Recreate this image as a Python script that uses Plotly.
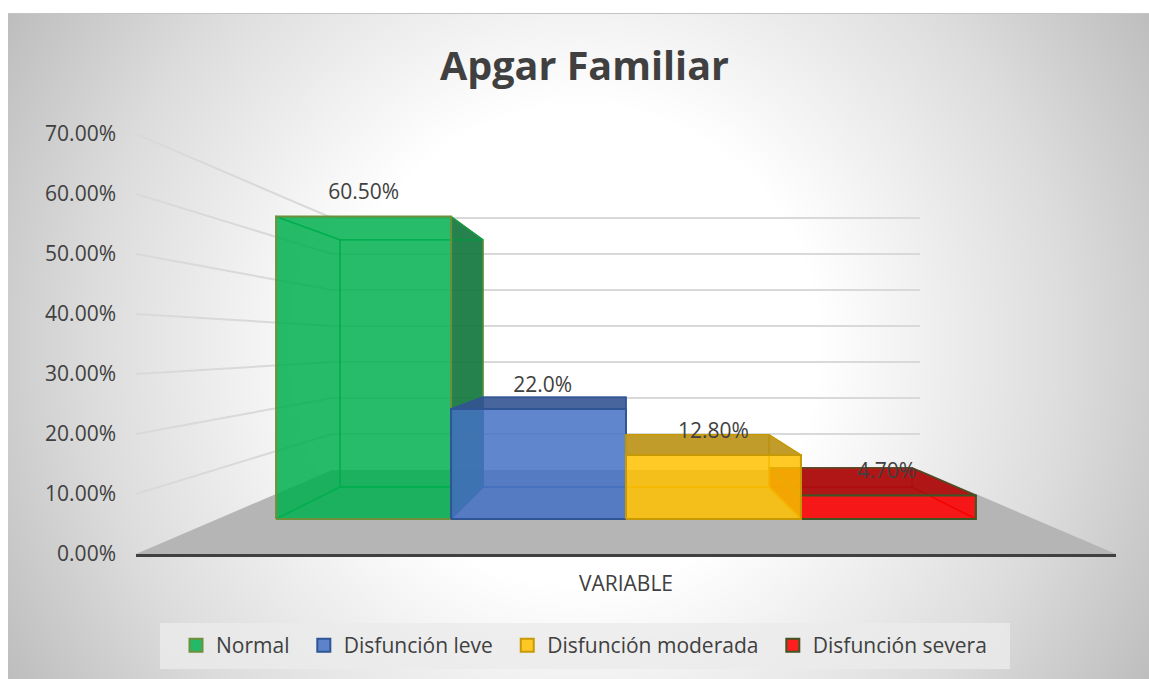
import base64
import plotly.graph_objects as go

categories=["Normal","Disfunción leve","Disfunción moderada","Disfunción severa"]
values=[60.5,22.0,12.8,4.7]
value_labels=["60.50%","22.0%","12.80%","4.70%"]
label_nudge=[0,0.024,0,-0.01]
grid_values=[0,10,20,30,40,50,60,70]
tick_labels=["0.00%","10.00%","20.00%","30.00%","40.00%","50.00%","60.00%","70.00%"]
# trailing no-break spaces only open up the gaps between legend entries
legend_pad=["\u00a0\u00a0\u00a0","\u00a0\u00a0\u00a0","\u00a0\u00a0\u00a0","\u00a0"]

# colours per series
front_fill=["rgba(0,176,80,0.85)","rgba(68,114,196,0.85)","rgba(255,192,0,0.85)","rgba(255,0,0,0.87)"]
dark_fill=["rgba(20,120,62,0.93)","rgba(52,84,146,0.9)","rgba(186,142,14,0.88)","rgba(176,14,14,0.95)"]
front_edge=["#6f8f3a","#2f5597","#c79a05","#3f5524"]
inner_edge=["rgba(0,160,70,0.9)","rgba(47,85,151,0.7)","rgba(199,154,5,0.8)","rgba(160,15,15,0.9)"]

# perspective: everything shrinks towards the middle of the axis
vanish=35
axis_half=7/3
front_depth=0.833
back_depth=0.681
wall_depth=0.6

def proj(x,v,s):
    return s*x,vanish+s*(v-vanish)

def poly(points):
    xs=[];ys=[]
    for p in points:
        a,b=proj(*p)
        xs.append(a);ys.append(b)
    return xs,ys

fig=go.Figure()

def add_face(points,fill=None,edge=None,width=1.3,close=True):
    pts=list(points)
    if close:
        pts.append(pts[0])
    xs,ys=poly(pts)
    fig.add_trace(go.Scatter(x=xs,y=ys,mode="lines",fill="toself" if fill else "none",fillcolor=fill,
                             line=dict(color=edge if edge else "rgba(0,0,0,0)",width=width),
                             showlegend=False,hoverinfo="skip"))

# floor
add_face([(-axis_half,0,1),(-axis_half,0,wall_depth),(axis_half,0,wall_depth),(axis_half,0,1)],fill="#b5b5b5",width=0)

# grid lines on the wall
for g in grid_values[1:]:
    add_face([(-axis_half,g,1),(-axis_half,g,wall_depth),(axis_half,g,wall_depth)],edge="#d9d9d9",width=2,close=False)

# outer bars first, like excel does
for i in [0,3,1,2]:
    v=values[i]
    x0=i-2
    x1=i-1
    f,b=front_depth,back_depth
    ie=inner_edge[i]
    add_face([(x0,0,b),(x1,0,b),(x1,v,b),(x0,v,b)],edge=ie)
    add_face([(x0,0,f),(x1,0,f),(x1,0,b),(x0,0,b)],edge=ie)
    add_face([(x0,0,f),(x0,v,f),(x0,v,b),(x0,0,b)],fill=dark_fill[i] if x0>0 else "rgba(0,0,0,0.02)",edge=ie)
    add_face([(x1,0,f),(x1,v,f),(x1,v,b),(x1,0,b)],fill=dark_fill[i] if x1<0 else "rgba(0,0,0,0.02)",edge=front_edge[i] if x1<0 else ie)
    add_face([(x0,v,f),(x1,v,f),(x1,v,b),(x0,v,b)],fill=dark_fill[i] if v<vanish else None,edge=front_edge[i] if v<vanish else ie)
    add_face([(x0,0,f),(x1,0,f),(x1,v,f),(x0,v,f)],fill=front_fill[i],edge=front_edge[i],width=2)

# data labels sit a little over the front top edge
lx=[];ly=[]
for i,v in enumerate(values):
    a,b=proj(i-1.5+label_nudge[i],v,front_depth)
    lx.append(a);ly.append(b+2)
fig.add_trace(go.Scatter(x=lx,y=ly,mode="text",text=value_labels,textposition="top center",
                         textfont=dict(family="Open Sans",size=21,color="#404040"),
                         showlegend=False,hoverinfo="skip",cliponaxis=False))

# legend entries
for i,c in enumerate(categories):
    fig.add_trace(go.Scatter(x=[None],y=[None],mode="markers",name=c+legend_pad[i],
                             marker=dict(symbol="square",size=13,color=front_fill[i],line=dict(color=front_edge[i],width=2))))

svg=('<svg xmlns="http://www.w3.org/2000/svg" width="1141" height="666" viewBox="0 0 1141 666">'
     '<defs><radialGradient id="g" gradientUnits="userSpaceOnUse" cx="572" cy="333" r="680">'
     '<stop offset="0.35" stop-color="#ffffff"/><stop offset="0.72" stop-color="#dcdcdc"/><stop offset="1" stop-color="#bababa"/>'
     '</radialGradient></defs><rect width="1141" height="666" fill="url(#g)"/>'
     '<rect width="1141" height="1" fill="#c4c4c4"/></svg>')
bg="data:image/svg+xml;base64,"+base64.b64encode(svg.encode()).decode()

W,H=1149,679
L,R,T,B=136,33,134,125
pw=W-L-R
ph=H-T-B

fig.update_layout(
    width=W,height=H,
    margin=dict(l=L,r=R,t=T,b=B,autoexpand=False),
    paper_bgcolor="white",plot_bgcolor="rgba(0,0,0,0)",
    font=dict(family="Open Sans",color="#404040",size=21),
    title=dict(text="<b>Apgar Familiar</b>",x=584.5/W,xref="container",xanchor="center",
               y=1-66/H,yref="container",yanchor="middle",font=dict(family="Open Sans",size=39.5,color="#404040")),
    xaxis=dict(range=[-axis_half,axis_half],showgrid=False,zeroline=False,showticklabels=False,ticks="",
               showline=True,linecolor="#404040",linewidth=3,
               title=dict(text="VARIABLE",standoff=21,font=dict(family="Open Sans",size=21,color="#404040"))),
    yaxis=dict(range=[0,70],tickvals=grid_values,ticktext=tick_labels,showgrid=False,zeroline=False,
               showline=False,ticks="",ticklabelstandoff=19,tickfont=dict(family="Open Sans",size=21,color="#404040")),
    legend=dict(orientation="h",x=(183-L)/pw,xanchor="left",y=-(625-T-ph)/ph,yanchor="top",indentation=-7,
                bgcolor="rgba(0,0,0,0)",font=dict(family="Open Sans",size=21,color="#404040")),
    images=[dict(source=bg,xref="paper",yref="paper",x=(8-L)/pw,y=1+(T-13)/ph,sizex=1141/pw,sizey=666/ph,
                 xanchor="left",yanchor="top",sizing="stretch",layer="below")],
    shapes=[dict(type="rect",xref="paper",yref="paper",x0=(160-L)/pw,x1=(1010-L)/pw,y0=-(669-T-ph)/ph,y1=-(623-T-ph)/ph,
                 fillcolor="rgba(235,235,235,0.8)",line=dict(width=0),layer="below")],
)

fig.write_html("out.html",config={"displayModeBar":False},post_script="document.body.style.margin='0';")
